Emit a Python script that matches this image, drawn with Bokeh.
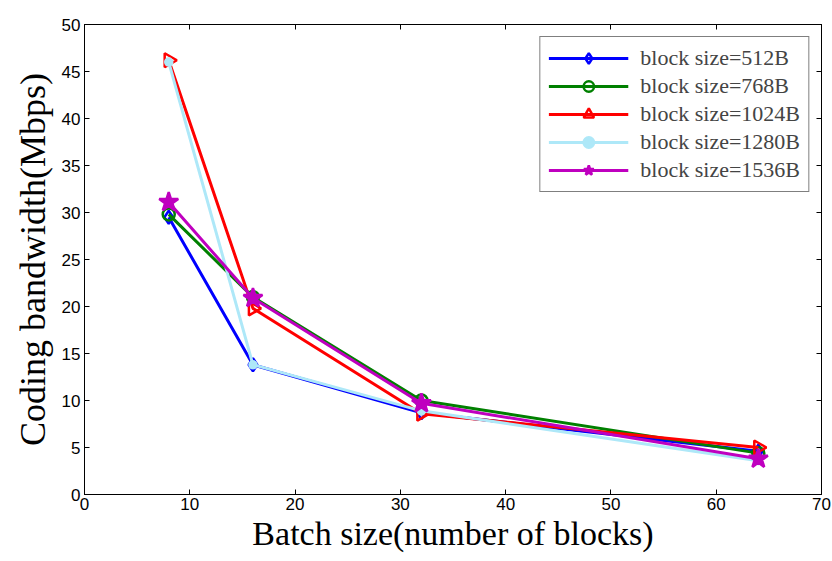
import math
from bokeh.plotting import figure
from bokeh.models import Range1d, LinearAxis, FixedTicker, Legend, LegendItem
from bokeh.embed import file_html
from bokeh.resources import INLINE

batch = [8, 16, 32, 64]
bw_512 = [29.5, 13.8, 8.7, 4.6]
bw_768 = [29.8, 21.0, 10.0, 4.4]
bw_1024 = [46.2, 19.8, 8.6, 5.0]
bw_1280 = [46.0, 13.8, 8.9, 3.6]
bw_1536 = [31.1, 20.9, 9.7, 3.8]
labels = ["block size=512B", "block size=768B", "block size=1024B",
          "block size=1280B", "block size=1536B"]
x_ticks = [0, 10, 20, 30, 40, 50, 60, 70]
y_ticks = [0, 5, 10, 15, 20, 25, 30, 35, 40, 45, 50]

p = figure(width=832, height=561, output_backend="svg", toolbar_location=None,
           x_range=Range1d(0, 70), y_range=Range1d(0, 50),
           min_border_left=84, min_border_right=11, min_border_top=24, min_border_bottom=67)
p.grid.visible = False
p.outline_line_color = "black"
p.outline_line_width = 1

for ax in [p.xaxis[0], p.yaxis[0]]:
    ax.major_tick_in = 5
    ax.major_tick_out = 0
    ax.minor_tick_in = 0
    ax.minor_tick_out = 0
    ax.major_label_text_font = "Liberation Sans"
    ax.major_label_text_font_size = "17px"
    ax.major_label_text_color = "black"
    ax.axis_label_text_font = "Liberation Serif"
    ax.axis_label_text_font_style = "normal"
    ax.axis_label_text_color = "black"
    ax.axis_line_color = "black"
p.xaxis[0].axis_label_text_font_size = "34px"
p.yaxis[0].axis_label_text_font_size = "36px"
p.xaxis[0].ticker = FixedTicker(ticks=x_ticks)
p.yaxis[0].ticker = FixedTicker(ticks=y_ticks)
p.xaxis[0].axis_label = "Batch size(number of blocks)"
p.yaxis[0].axis_label = "Coding bandwidth(Mbps)"
p.xaxis[0].axis_label_standoff = 2
p.yaxis[0].axis_label_standoff = 6
p.xaxis[0].major_label_standoff = 3
p.yaxis[0].major_label_standoff = 4

top = LinearAxis(ticker=FixedTicker(ticks=x_ticks), major_tick_in=5, major_tick_out=0,
                 minor_tick_in=0, minor_tick_out=0,
                 major_label_overrides={t: "" for t in x_ticks})
right = LinearAxis(ticker=FixedTicker(ticks=y_ticks), major_tick_in=5, major_tick_out=0,
                   minor_tick_in=0, minor_tick_out=0,
                   major_label_overrides={t: "" for t in y_ticks})
p.add_layout(top, "above")
p.add_layout(right, "right")

series = [
    (bw_512, "#0000FF", "diamond", 13, None),
    (bw_768, "#008000", "circle", 12, None),
    (bw_1024, "#FF0000", "triangle", 14, None),
    (bw_1280, "#AEE8F8", "circle", 7, "#AEE8F8"),
    (bw_1536, "#BF00BF", "star", 20, "#BF00BF"),
]
items = []
for (vals, col, mk, sz, fill), lab in zip(series, labels):
    r1 = p.line(batch, vals, line_color=col, line_width=3)
    kw = dict(marker=mk, size=sz, line_color=col, line_width=2.5,
              fill_color=fill if fill else "white", fill_alpha=1 if fill else 0)
    if mk == "triangle":
        kw["angle"] = -math.pi / 2
    r2 = p.scatter(batch, vals, **kw)
    items.append(LegendItem(label=lab, renderers=[r1, r2]))

legend = Legend(items=items, location="top_right")
legend.label_text_font = "Liberation Serif"
legend.label_text_font_size = "22px"
legend.label_height = 26
legend.glyph_width = 80
legend.glyph_height = 26
legend.spacing = 2
legend.padding = 8
legend.margin = 12
legend.border_line_color = "black"
legend.border_line_width = 1.5
legend.label_standoff = 12
p.add_layout(legend)

open("out.html", "w").write(file_html(p, INLINE))
